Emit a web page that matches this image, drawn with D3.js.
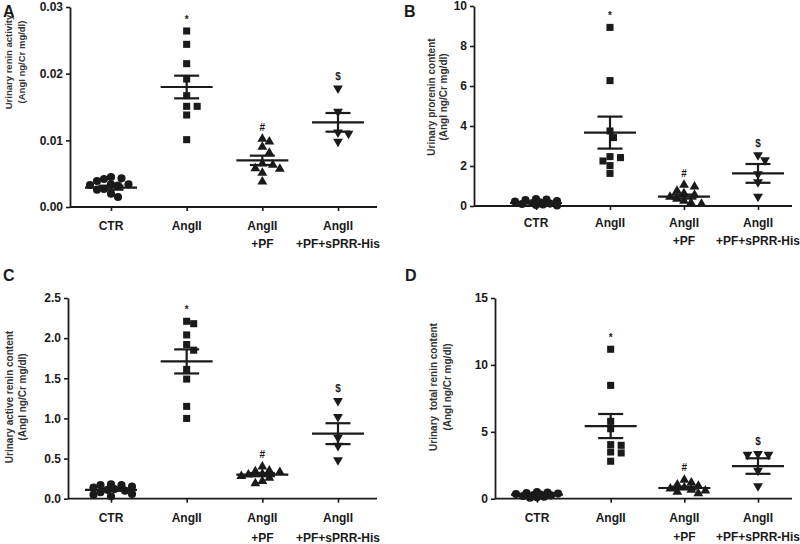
<!DOCTYPE html>
<html><head><meta charset="utf-8">
<script src="https://cdn.jsdelivr.net/npm/d3@7"></script>
<style>body{margin:0;background:#fff}svg{display:block}text{white-space:pre}</style>
</head><body>
<svg id="c" width="800" height="544"></svg>
<script>
// ---------- DATA ----------
const categoriesLine1 = ["CTR", "AngII", "AngII", "AngII"];
const categoriesLine2 = ["", "", "+PF", "+PF+sPRR-His"];
const groupShapes = ["circle", "square", "triangle", "triangleDown"];
const annotations = ["", "*", "#", "$"];

const panelA_values = [
  [0.0043, 0.0039, 0.0042, 0.0045, 0.0033, 0.0032, 0.0034, 0.0034, 0.0026, 0.0027, 0.0015, 0.0020],
  [0.0264, 0.0244, 0.0215, 0.0192, 0.0167, 0.0151, 0.0151, 0.0138, 0.0101],
  [0.0102, 0.0098, 0.0090, 0.0081, 0.0063, 0.0058, 0.0051, 0.0057, 0.0038, 0.0065],
  [0.0178, 0.0143, 0.0112, 0.0110, 0.0098]
];
const panelA_means = [0.0029, 0.0180, 0.0070, 0.0127];
const panelA_sems = [0.0003, 0.0017, 0.0007, 0.0014];
const panelA_ticks = [0, 0.01, 0.02, 0.03];

const panelB_values = [
  [0.35, 0.32, 0.30, 0.25, 0.22, 0.18, 0.15, 0.12, 0.10, 0.08, 0.05, 0.03],
  [8.93, 6.27, 3.75, 3.42, 2.42, 2.47, 2.25, 2.02, 1.63],
  [1.05, 0.97, 0.75, 0.63, 0.55, 0.45, 0.35, 0.25, 0.15, 0.10],
  [2.55, 2.30, 1.60, 1.20, 0.47]
];
const panelB_means = [0.15, 3.67, 0.47, 1.63];
const panelB_sems = [0.03, 0.80, 0.10, 0.47];
const panelB_ticks = [0, 2, 4, 6, 8, 10];

const panelC_values = [
  [0.18, 0.17, 0.17, 0.15, 0.14, 0.12, 0.11, 0.10, 0.08, 0.06, 0.05, 0.03],
  [2.18, 2.21, 2.04, 1.92, 1.85, 1.61, 1.49, 1.15, 1.00],
  [0.40, 0.35, 0.34, 0.33, 0.31, 0.30, 0.28, 0.26, 0.22, 0.19],
  [1.22, 1.02, 0.76, 0.66, 0.48]
];
const panelC_means = [0.11, 1.71, 0.30, 0.81];
const panelC_sems = [0.012, 0.15, 0.02, 0.13];
const panelC_ticks = [0, 0.5, 1.0, 1.5, 2.0, 2.5];

const panelD_values = [
  [0.50, 0.46, 0.42, 0.38, 0.35, 0.30, 0.28, 0.25, 0.20, 0.15, 0.10, 0.08],
  [11.17, 8.47, 5.78, 5.23, 3.99, 4.04, 3.49, 3.42, 2.80],
  [1.40, 1.20, 1.05, 0.95, 0.85, 0.75, 0.65, 0.60, 0.50, 0.40],
  [3.36, 3.30, 3.30, 2.10, 0.95]
];
const panelD_means = [0.30, 5.43, 0.80, 2.44];
const panelD_sems = [0.04, 0.90, 0.10, 0.58];
const panelD_ticks = [0, 5, 10, 15];

// ---------- LAYOUT ----------
const panels = [
  { letter: "A", values: panelA_values, means: panelA_means, sems: panelA_sems, ticks: panelA_ticks, fmt: ".2f",
    yl1: "Urinary renin activity", yl2: "(AngI ng/Cr mg/dl)",
    L: { x0: 70, x1: 377, y0: 207, y1: 7, c0: 111, c1: 338, lx1: 11.5, lx2: 25, ly: 62, fs: 9.5, lettX: 3, lettY: 17, cat1: 230, cat2: 248 } },
  { letter: "B", values: panelB_values, means: panelB_means, sems: panelB_sems, ticks: panelB_ticks, fmt: "d",
    yl1: "Urinary prorenin content", yl2: "(AngI ng/Cr mg/dl)",
    L: { x0: 474, x1: 792, y0: 206, y1: 6, c0: 536, c1: 758, lx1: 435, lx2: 446.5, ly: 97, fs: 10, lettX: 404, lettY: 17, cat1: 227, cat2: 245 } },
  { letter: "C", values: panelC_values, means: panelC_means, sems: panelC_sems, ticks: panelC_ticks, fmt: ".1f",
    yl1: "Urinary active renin content", yl2: "(AngI ng/Cr mg/dl)",
    L: { x0: 68, x1: 377, y0: 498.7, y1: 298, c0: 111, c1: 338, lx1: 12.5, lx2: 25.5, ly: 397, fs: 10, lettX: 3, lettY: 281, cat1: 522, cat2: 542 } },
  { letter: "D", values: panelD_values, means: panelD_means, sems: panelD_sems, ticks: panelD_ticks, fmt: "d",
    yl1: "Urinary  total renin content", yl2: "(AngI ng/Cr mg/dl)",
    L: { x0: 495, x1: 792, y0: 498.7, y1: 298, c0: 537, c1: 758, lx1: 436.5, lx2: 450.5, ly: 387, fs: 10, lettX: 405, lettY: 281, cat1: 522, cat2: 541 } }
];

const svg = d3.select("#c");
const INK = "#1a1a1a";
const FONT = "'Liberation Sans', Arial, sans-serif";

// column-scatter placement: spread colliding points sideways, capped width
function swarm(vals, y, cx, d, step, maxOff) {
  const pts = vals.map((v, i) => ({ v, i, y: y(v) })).sort((a, b) => b.v - a.v);
  const placed = [];
  const nK = Math.floor(maxOff / step) * 2 + 1;
  for (const p of pts) {
    let best = null, bestScore = -1;
    for (let k = 0; k < nK; k++) {
      const off = k === 0 ? 0 : (k % 2 ? 1 : -1) * Math.ceil(k / 2) * step;
      const x = cx + off;
      const minD = placed.length ? d3.min(placed, q => Math.hypot(q.x - x, q.y - p.y)) : Infinity;
      if (minD >= d) { best = x; break; }
      if (minD > bestScore) { bestScore = minD; best = x; }
    }
    p.x = best; placed.push(p);
  }
  return pts;
}

const symTypes = { circle: d3.symbolCircle, square: d3.symbolSquare, triangle: d3.symbolTriangle, triangleDown: d3.symbolTriangle };
const symSizes = { circle: 52, square: 50, triangle: 42, triangleDown: 42 };

panels.forEach(P => {
  const L = P.L;
  const g = svg.append("g");
  const y = d3.scaleLinear().domain([P.ticks[0], P.ticks[P.ticks.length - 1]]).range([L.y0, L.y1]);
  const x = d3.scalePoint().domain(d3.range(categoriesLine1.length)).range([L.c0, L.c1]);

  // y axis
  const ya = g.append("g").attr("transform", `translate(${L.x0},0)`)
    .call(d3.axisLeft(y).tickValues(P.ticks).tickFormat(d3.format(P.fmt)).tickSize(4).tickSizeOuter(0).tickPadding(3));
  ya.select(".domain").attr("stroke", INK).attr("stroke-width", 1.8);
  ya.selectAll(".tick line").attr("stroke", INK).attr("stroke-width", 1.6);
  ya.selectAll(".tick text").attr("font-family", FONT).attr("font-size", 12).attr("font-weight", "bold").attr("fill", INK);

  // x axis
  g.append("line").attr("x1", L.x0).attr("x2", L.x1).attr("y1", L.y0).attr("y2", L.y0)
    .attr("stroke", INK).attr("stroke-width", 1.8);
  const xa = g.append("g").attr("transform", `translate(0,${L.y0})`)
    .call(d3.axisBottom(x).tickSize(4).tickSizeOuter(0).tickFormat(""));
  xa.select(".domain").remove();
  xa.selectAll(".tick line").attr("stroke", INK).attr("stroke-width", 1.6);

  // category labels
  categoriesLine1.forEach((c, i) => {
    g.append("text").attr("x", x(i)).attr("y", L.cat1).attr("text-anchor", "middle")
      .attr("font-family", FONT).attr("font-size", 12).attr("font-weight", "bold").attr("fill", INK).text(c);
    if (categoriesLine2[i]) g.append("text").attr("x", x(i)).attr("y", L.cat2).attr("text-anchor", "middle")
      .attr("font-family", FONT).attr("font-size", 12).attr("font-weight", "bold").attr("fill", INK).text(categoriesLine2[i]);
  });

  // y label
  const yl = g.append("text").attr("transform", `translate(${L.lx1},${L.ly}) rotate(-90)`)
    .attr("text-anchor", "middle").attr("font-family", FONT).attr("font-size", L.fs).attr("font-weight", "bold").attr("fill", "#333");
  yl.append("tspan").attr("x", 0).attr("y", 0).text(P.yl1);
  yl.append("tspan").attr("x", 0).attr("y", L.lx2 - L.lx1).text(P.yl2);

  // panel letter
  g.append("text").attr("x", L.lettX).attr("y", L.lettY).attr("font-family", FONT).attr("font-size", 16)
    .attr("font-weight", "bold").attr("fill", INK).text(P.letter);

  // points
  P.values.forEach((vals, gi) => {
    const shape = groupShapes[gi];
    const pts = swarm(vals, y, x(gi), 7.2, 3.5, 21);
    const sym = d3.symbol().type(symTypes[shape]).size(symSizes[shape]);
    g.selectAll(null).data(pts).enter().append("path")
      .attr("d", sym)
      .attr("transform", d => `translate(${d.x},${d.y})` + (shape === "triangleDown" ? " rotate(180)" : ""))
      .attr("fill", INK);

    // mean & SEM
    const m = P.means[gi], s = P.sems[gi], cx = x(gi);
    const eg = g.append("g").attr("stroke", INK).attr("stroke-width", 2.2);
    eg.append("line").attr("x1", cx - 26).attr("x2", cx + 26).attr("y1", y(m)).attr("y2", y(m));
    eg.append("line").attr("x1", cx).attr("x2", cx).attr("y1", y(m + s)).attr("y2", y(m - s));
    eg.append("line").attr("x1", cx - 12.5).attr("x2", cx + 12.5).attr("y1", y(m + s)).attr("y2", y(m + s));
    eg.append("line").attr("x1", cx - 12.5).attr("x2", cx + 12.5).attr("y1", y(m - s)).attr("y2", y(m - s));

    // annotation
    if (annotations[gi]) {
      g.append("text").attr("x", cx).attr("y", y(d3.max(vals)) - 12).attr("dy", "0.35em")
        .attr("text-anchor", "middle").attr("font-family", FONT).attr("font-size", 10).attr("font-weight", "bold")
        .attr("fill", INK).text(annotations[gi]);
    }
  });
});
</script>
</body></html>
